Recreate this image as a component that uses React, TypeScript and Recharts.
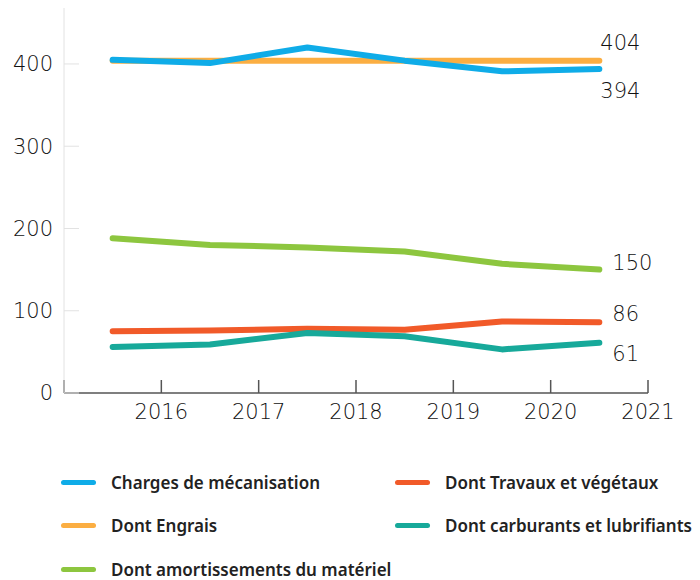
import React from 'react';
import { LineChart, Line, XAxis, YAxis, Legend } from 'recharts';

const years = [2015.5, 2016.5, 2017.5, 2018.5, 2019.5, 2020.5];
const mecanisation = [405, 401, 420, 404, 391, 394];
const engrais = [404, 404, 404, 404, 404, 404];
const amortissements = [188, 180, 177, 172, 157, 150];
const travaux = [75, 76, 78, 77, 87, 86];
const carburants = [56, 59, 73, 69, 53, 61];
const xTicks = [2015, 2016, 2017, 2018, 2019, 2020, 2021];
const yTicks = [0, 100, 200, 300, 400];

const series = [
  { key: 'engrais', name: 'Dont Engrais', color: '#FBAE42', values: engrais, dx: 1, dy: -18 },
  { key: 'mecanisation', name: 'Charges de mécanisation', color: '#0FACE8', values: mecanisation, dx: 1, dy: 22 },
  { key: 'amortissements', name: 'Dont amortissements du matériel', color: '#8DC63F', values: amortissements, dx: 13, dy: -7 },
  { key: 'travaux', name: 'Dont Travaux et végétaux', color: '#F15A29', values: travaux, dx: 13, dy: -8 },
  { key: 'carburants', name: 'Dont carburants et lubrifiants', color: '#17A99A', values: carburants, dx: 13, dy: 11 },
];

const legendOrder = [
  ['mecanisation', 'travaux'],
  ['engrais', 'carburants'],
  ['amortissements'],
];

const data = years.map((year, i) => {
  const row: Record<string, number> = { year };
  series.forEach((s) => {
    row[s.key] = s.values[i];
  });
  return row;
});

const FONT = '"Noto Sans", sans-serif';
const NUM_FONT = '"DejaVu Sans", sans-serif';
const NUM_WEIGHT = 200;
const NUM_COLOR = '#111';

const makeEndLabel = (dx: number, dy: number) => (props: any) => {
  const { x, y, index, value } = props;
  if (index !== years.length - 1) return null;
  return (
    <text
      x={x + dx}
      y={y + dy}
      fill={NUM_COLOR}
      fontSize={21}
      fontFamily={NUM_FONT}
      fontWeight={NUM_WEIGHT}
      dominantBaseline="central"
      textAnchor="start"
    >
      {value}
    </text>
  );
};

const LegendContent = () => {
  const byKey: Record<string, (typeof series)[number]> = {};
  series.forEach((s) => (byKey[s.key] = s));
  return (
    <div style={{ width: 700, fontFamily: FONT }}>
      {legendOrder.map((row, r) => (
        <div key={r} style={{ position: 'relative', height: 43.5 }}>
          {row.map((k, c) => {
            const s = byKey[k];
            return (
              <div
                key={k}
                style={{
                  position: 'absolute',
                  left: c === 0 ? 53 : 387,
                  top: 0,
                  height: 24,
                  display: 'flex',
                  alignItems: 'center',
                }}
              >
                <span
                  style={{
                    display: 'inline-block',
                    width: 35,
                    height: 5,
                    borderRadius: 3,
                    background: s.color,
                    marginRight: 15,
                  }}
                />
                <span style={{ fontSize: 17, fontWeight: 600, color: '#222', whiteSpace: 'nowrap' }}>
                  {s.name}
                </span>
              </div>
            );
          })}
        </div>
      ))}
    </div>
  );
};

export default function App() {
  return (
    <LineChart
      width={700}
      height={570}
      data={data}
      margin={{ top: 0, right: 60, left: 0, bottom: 155 }}
    >
      <XAxis
        dataKey="year"
        type="number"
        domain={[2015, 2021]}
        ticks={xTicks}
        tickFormatter={(v: number) => (v === 2015 ? '' : String(v))}
        axisLine={{ stroke: '#555', strokeWidth: 1.5 }}
        tickLine={{ stroke: '#555', strokeWidth: 1.5 }}
        tickSize={-13}
        tickMargin={24}
        height={30}
        tick={{ fill: NUM_COLOR, fontSize: 21, fontFamily: NUM_FONT, fontWeight: NUM_WEIGHT }}
        interval={0}
      />
      <YAxis
        domain={[0, 468]}
        ticks={yTicks}
        width={56}
        axisLine={{ stroke: '#e2e2e2', strokeWidth: 1 }}
        tickLine={{ stroke: '#e2e2e2', strokeWidth: 1 }}
        tickSize={-15}
        tickMargin={26}
        tick={{ fill: NUM_COLOR, fontSize: 21, fontFamily: NUM_FONT, fontWeight: NUM_WEIGHT }}
        interval={0}
      />
      <Legend
        layout="horizontal"
        verticalAlign="middle"
        align="center"
        wrapperStyle={{ top: 462, left: 0, width: 700 }}
        content={<LegendContent />}
      />
      {series.map((s) => (
        <Line
          key={s.key}
          dataKey={s.key}
          name={s.name}
          type="linear"
          stroke={s.color}
          strokeWidth={6}
          strokeLinejoin="round"
          strokeLinecap="round"
          dot={false}
          activeDot={false}
          isAnimationActive={false}
          label={makeEndLabel(s.dx, s.dy)}
        />
      ))}
    </LineChart>
  );
}
